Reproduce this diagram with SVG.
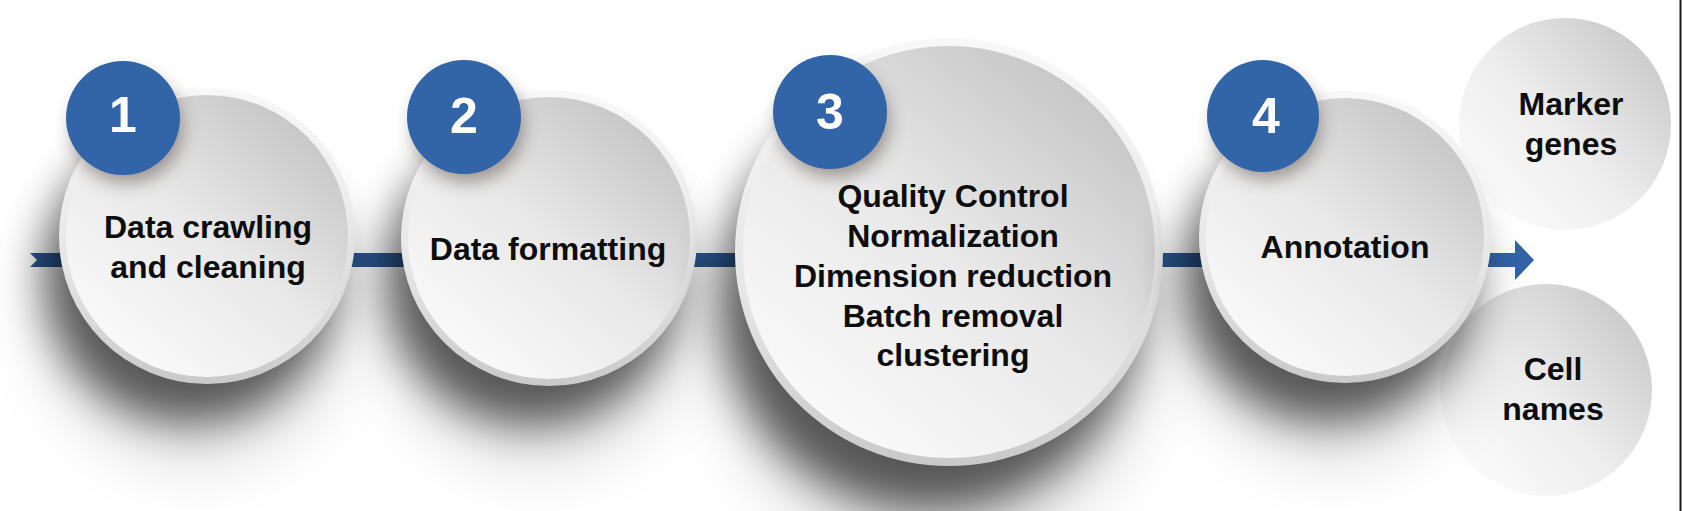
<svg xmlns="http://www.w3.org/2000/svg" width="1682" height="511" viewBox="0 0 1682 511">
<style>
.lbl{font-family:"Liberation Sans",Arial,Helvetica,sans-serif;font-weight:bold;font-size:32px;fill:#0d0d0d;text-anchor:middle}
.num{font-family:"Liberation Sans",Arial,Helvetica,sans-serif;font-weight:bold;font-size:50px;fill:#ffffff;text-anchor:middle}
.rim{fill:url(#rimGrad)}
.disk{fill:url(#diskGrad)}
.small{fill:url(#smallGrad)}
.badge{fill:#3264a8}
.shadow{fill:#000;opacity:0.6;filter:url(#blurBig)}
.shadow2{fill:#000;opacity:0.14;filter:url(#blurHuge)}
.bshadow{fill:#3a2a20;opacity:0.45;filter:url(#blurSmall)}
</style>
<defs>
<filter id="blurBig" x="-50%" y="-50%" width="200%" height="200%"><feGaussianBlur stdDeviation="22"/></filter>
<filter id="blurHuge" x="-60%" y="-60%" width="220%" height="220%"><feGaussianBlur stdDeviation="34"/></filter>
<filter id="blurSmall" x="-50%" y="-50%" width="200%" height="200%"><feGaussianBlur stdDeviation="9"/></filter>
<linearGradient id="rimGrad" x1="0.5" y1="0" x2="0.5" y2="1">
<stop offset="0" stop-color="#f8f8f8"/>
<stop offset="0.6" stop-color="#e6e6e6"/>
<stop offset="1" stop-color="#c9c9c9"/>
</linearGradient>
<linearGradient id="diskGrad" x1="0.85" y1="0.1" x2="0.2" y2="0.9">
<stop offset="0" stop-color="#c6c6c6"/>
<stop offset="0.5" stop-color="#e8e8e8"/>
<stop offset="1" stop-color="#f9f9f9"/>
</linearGradient>
<linearGradient id="smallGrad" x1="0.9" y1="0.15" x2="0.15" y2="0.85">
<stop offset="0" stop-color="#cbcbcb"/>
<stop offset="0.55" stop-color="#ededed"/>
<stop offset="1" stop-color="#fafafa"/>
</linearGradient>
<linearGradient id="peekGrad" x1="0" y1="0" x2="0" y2="1">
<stop offset="0" stop-color="#7aa0d4"/>
<stop offset="1" stop-color="#3264a8"/>
</linearGradient>
</defs>
<rect width="1682" height="511" fill="#ffffff"/>

<g id="connectors">
<path d="M30,253 H1492 V267 H30 L37,260 Z" fill="#2c5790"/>
<path d="M1490,253 H1515 V240 L1534,260 L1515,280 V267 H1490 Z" fill="#3264a8"/>
</g>

<g id="node-marker-genes">
<circle cx="1565" cy="124" r="106" class="small"/>
<text class="lbl" x="1571" y="115">Marker</text>
<text class="lbl" x="1571" y="155">genes</text>
</g>

<g id="node-cell-names">
<circle cx="1546" cy="390" r="106" class="small"/>
<text class="lbl" x="1553" y="380">Cell</text>
<text class="lbl" x="1553" y="420">names</text>
</g>

<g id="node-1">
<circle cx="195" cy="310" r="150" class="shadow2"/>
<circle cx="190" cy="276" r="146" class="shadow"/>
<circle cx="207" cy="236" r="148" class="rim"/>
<circle cx="207" cy="236" r="141" class="disk"/>
<circle cx="127" cy="128" r="55" class="bshadow"/>
<circle cx="123" cy="118" r="57" class="badge"/>
<text class="num" x="123" y="132">1</text>
<text class="lbl" x="208" y="238">Data crawling</text>
<text class="lbl" x="208" y="278">and cleaning</text>
</g>

<g id="node-2">
<circle cx="537" cy="312" r="150" class="shadow2"/>
<circle cx="532" cy="278" r="146" class="shadow"/>
<circle cx="549" cy="238" r="148" class="rim"/>
<circle cx="549" cy="238" r="141" class="disk"/>
<circle cx="468" cy="127" r="55" class="bshadow"/>
<circle cx="464" cy="117" r="57" class="badge"/>
<text class="num" x="464" y="133">2</text>
<text class="lbl" x="548" y="260">Data formatting</text>
</g>

<g id="node-3">
<circle cx="935" cy="340" r="215" class="shadow2"/>
<circle cx="930" cy="300" r="210" class="shadow"/>
<circle cx="949" cy="252" r="214" class="rim"/>
<circle cx="949" cy="252" r="206" class="disk"/>
<circle cx="834" cy="122" r="55" class="bshadow"/>
<circle cx="830" cy="112" r="57" class="badge"/>
<text class="num" x="830" y="129">3</text>
<text class="lbl" x="953" y="207">Quality Control</text>
<text class="lbl" x="953" y="247">Normalization</text>
<text class="lbl" x="953" y="287">Dimension reduction</text>
<text class="lbl" x="953" y="327">Batch removal</text>
<text class="lbl" x="953" y="366">clustering</text>
</g>

<g id="node-4">
<circle cx="1333" cy="310" r="148" class="shadow2"/>
<circle cx="1328" cy="277" r="144" class="shadow"/>
<circle cx="1345" cy="237" r="146" class="rim"/>
<circle cx="1345" cy="237" r="139" class="disk"/>
<circle cx="1267" cy="126" r="53" class="bshadow"/>
<circle cx="1263" cy="116" r="56" class="badge"/>
<text class="num" x="1266" y="133">4</text>
<text class="lbl" x="1345" y="258">Annotation</text>
</g>

<circle cx="782" cy="568" r="57" fill="url(#peekGrad)"/>
<line x1="1680.5" y1="0" x2="1680.5" y2="511" stroke="#1a1a1a" stroke-width="2"/>
</svg>
